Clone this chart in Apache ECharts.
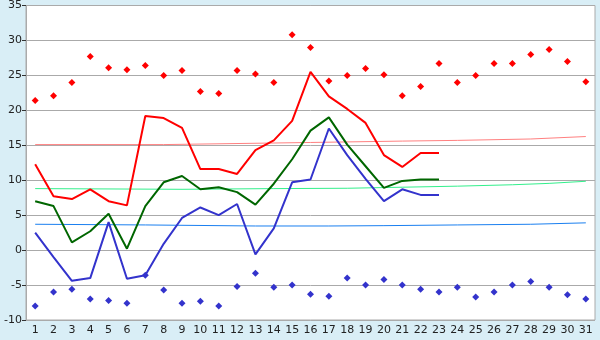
<!DOCTYPE html>
<html>
<head>
<meta charset="utf-8">
<script src="https://cdn.jsdelivr.net/npm/echarts@6/dist/echarts.min.js"></script>
<style>
  html, body { margin: 0; padding: 0; background: #d9eef6; }
  #chart { width: 600px; height: 340px; }
</style>
</head>
<body>
<div id="chart"></div>
<script>
// days of the month
const days = [];
for (let d = 1; d <= 31; d++) days.push(String(d));

// daily values, only up to day 23
const maxTemp = [12.3, 7.7, 7.3, 8.7, 7.0, 6.4, 19.2, 18.9, 17.5, 11.6, 11.6, 10.9, 14.3, 15.7, 18.5,
                 25.5, 22.0, 20.2, 18.2, 13.6, 11.9, 13.9, 13.9];
const meanTemp = [7.0, 6.3, 1.1, 2.7, 5.2, 0.2, 6.3, 9.7, 10.6, 8.7, 9.0, 8.3, 6.5, 9.5, 13.0,
                  17.1, 19.0, 15.1, 12.0, 8.9, 9.9, 10.1, 10.1];
const minTemp = [2.5, -1.0, -4.4, -4.0, 4.0, -4.1, -3.6, 0.9, 4.6, 6.1, 5.0, 6.6, -0.6, 3.1, 9.7,
                 10.1, 17.4, 13.6, 10.2, 7.0, 8.7, 7.9, 7.9];

// record highs / lows for every day
const recordHigh = [21.4, 22.1, 24.0, 27.7, 26.1, 25.8, 26.4, 25.0, 25.7, 22.7, 22.4, 25.7, 25.2, 24.0, 30.8,
                    29.0, 24.2, 25.0, 26.0, 25.1, 22.1, 23.4, 26.7, 24.0, 25.0, 26.7, 26.7, 28.0, 28.7, 27.0, 24.1];
const recordLow = [-8.0, -6.0, -5.6, -7.0, -7.2, -7.6, -3.6, -5.7, -7.6, -7.3, -8.0, -5.2, -3.3, -5.3, -5.0,
                   -6.3, -6.6, -4.0, -5.0, -4.2, -5.0, -5.6, -6.0, -5.3, -6.7, -6.0, -5.0, -4.5, -5.3, -6.4, -7.0];

// trend curves, read at a few days (null = not read)
const trendMax = [15.1, null, null, null, null, null, null, 15.1, null, null, null, null, null, null, null,
                  15.4, null, null, null, null, 15.6, null, null, 15.7, null, null, null, 15.9, null, null, 16.25];
const trendMean = [8.8, null, null, null, null, null, null, null, 8.7, null, null, null, null, 8.8, null,
                   null, null, 8.85, null, null, 9.0, null, null, 9.15, null, null, 9.35, null, 9.55, null, 9.85];
const trendMin = [3.7, null, null, null, null, null, 3.6, null, null, null, null, null, 3.45, null, null,
                  null, 3.45, null, null, 3.5, null, null, null, 3.6, null, null, null, 3.7, null, null, 3.9];

const chart = echarts.init(document.getElementById('chart'));

function lineSeries(data, color, width) {
    return {
        type: 'line',
        data: data,
        showSymbol: false,
        connectNulls: true,
        lineStyle: { color: color, width: width },
        itemStyle: { color: color },
        z: width > 1 ? 4 : 3,
        animation: false
    };
}

function dots(data, color) {
    return {
        type: 'scatter',
        data: data,
        symbol: 'diamond',
        symbolSize: 7,
        itemStyle: { color: color, opacity: 1 },
        z: 2,
        animation: false
    };
}

const option = {
    backgroundColor: '#d9eef6',
    textStyle: { fontFamily: 'DejaVu Sans' },
    grid: {
        left: 26, right: 5, top: 5, bottom: 20,
        show: true,
        backgroundColor: '#ffffff',
        borderColor: '#aaaaaa',
        borderWidth: 1
    },
    xAxis: {
        type: 'category',
        data: days,
        boundaryGap: true,
        axisLine: { lineStyle: { color: '#aaaaaa' } },
        axisTick: { alignWithLabel: true, length: 5, lineStyle: { color: '#333' } },
        axisLabel: { color: '#222', fontSize: 11, margin: 5, interval: 0 },
        splitLine: { show: false }
    },
    yAxis: {
        type: 'value',
        min: -10,
        max: 35,
        interval: 5,
        axisLine: { show: true, lineStyle: { color: '#aaaaaa' } },
        axisTick: { show: true, length: 4, lineStyle: { color: '#333' } },
        axisLabel: { color: '#222', fontSize: 11, margin: 4 },
        splitLine: { lineStyle: { color: '#aaaaaa', width: 1 } }
    },
    series: [
        lineSeries(trendMax, '#ff8080', 1),
        lineSeries(trendMean, '#33f08c', 1),
        lineSeries(trendMin, '#1a7ff0', 1),
        lineSeries(maxTemp, '#ff0000', 2),
        lineSeries(meanTemp, '#006600', 2),
        lineSeries(minTemp, '#3333cc', 2),
        dots(recordHigh, '#ff0000'),
        dots(recordLow, '#3333cc')
    ]
};

chart.setOption(option);
</script>
</body>
</html>
